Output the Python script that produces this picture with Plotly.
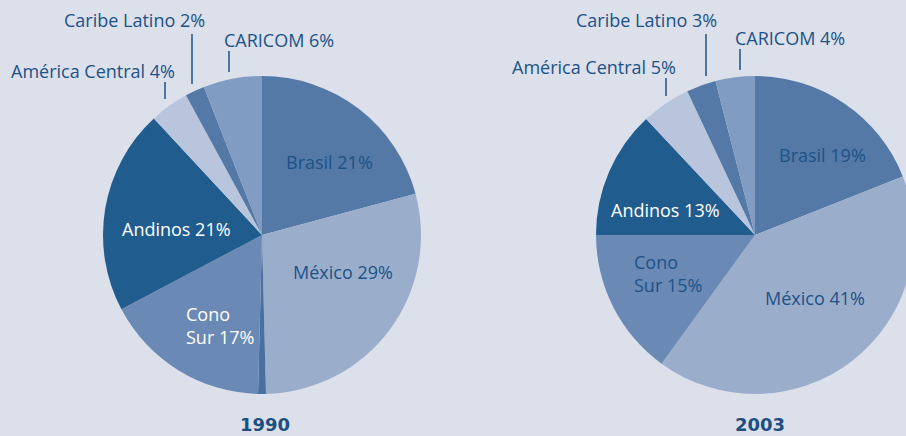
import plotly.graph_objects as go

# Regional shares of intra-Latin American trade, 1990 vs 2003
regions = ["Brasil", "México", "Otros", "Cono Sur", "Andinos",
           "América Central", "Caribe Latino", "CARICOM"]
share_1990 = [21, 29, 0.8, 17, 21, 4, 2, 6]
regions_2003 = ["Brasil", "México", "Cono Sur", "Andinos",
                "América Central", "Caribe Latino", "CARICOM"]
share_2003 = [19, 41, 15, 13, 5, 3, 4]
years = ["1990", "2003"]

W, H = 916, 436
BG = "#dbe0eb"
INK = "#1d5286"
FONT = "Open Sans"

colors_1990 = ["#5479a7", "#9aaecc", "#4a70a0", "#6a89b4", "#205c8d",
               "#b8c5dd", "#5479a7", "#809cc2"]
colors_2003 = ["#5479a7", "#9aaecc", "#6a89b4", "#205c8d",
               "#b8c5dd", "#5479a7", "#809cc2"]


def dom(cx, cy, r):
    return dict(x=[(cx - r) / W, (cx + r) / W],
                y=[(H - cy - r) / H, (H - cy + r) / H])


fig = go.Figure()
fig.add_trace(go.Pie(labels=regions, values=share_1990, sort=False,
                     direction="clockwise", rotation=0, textinfo="none",
                     marker=dict(colors=colors_1990, line=dict(width=0)),
                     domain=dom(262, 235, 159), hoverinfo="label+value"))
fig.add_trace(go.Pie(labels=regions_2003, values=share_2003, sort=False,
                     direction="clockwise", rotation=0, textinfo="none",
                     marker=dict(colors=colors_2003, line=dict(width=0)),
                     domain=dom(755, 235, 159), hoverinfo="label+value"))


def label(name, val, split=False):
    if split:
        a, b = name.split(" ", 1)
        return f"{a}<br>{b} {val}%"
    return f"{name} {val}%"


# label placement: (region, x, y, xanchor, color, split)
place_1990 = [
    ("Caribe Latino", 62, 20, "left", INK, False),
    ("CARICOM", 222, 40, "left", INK, False),
    ("América Central", 9, 71, "left", INK, False),
    ("Brasil", 329, 162, "center", INK, False),
    ("México", 343, 272, "center", INK, False),
    ("Andinos", 176, 229, "center", "white", False),
    ("Cono Sur", 184, 325, "left", "white", True),
]
place_2003 = [
    ("Caribe Latino", 574, 20, "left", INK, False),
    ("CARICOM", 733, 38, "left", INK, False),
    ("América Central", 510, 67, "left", INK, False),
    ("Brasil", 822, 155, "center", INK, False),
    ("México", 815, 298, "center", INK, False),
    ("Andinos", 665, 210, "center", "white", False),
    ("Cono Sur", 632, 273, "left", INK, True),
]

annotations = []
for names, vals, places in [(regions, share_1990, place_1990),
                            (regions_2003, share_2003, place_2003)]:
    lookup = dict(zip(names, vals))
    for name, x, y, xa, col, split in places:
        annotations.append(dict(
            text=label(name, lookup[name], split), x=x / W, y=1 - y / H,
            xref="paper", yref="paper", xanchor=xa, yanchor="middle",
            align="left", showarrow=False,
            font=dict(family=FONT, size=18, color=col)))

for yr, x in zip(years, [265, 760]):
    annotations.append(dict(
        text=f"<b>{yr}</b>", x=x / W, y=1 - 424 / H, xref="paper",
        yref="paper", xanchor="center", yanchor="middle", showarrow=False,
        font=dict(family="DejaVu Sans", size=18, color="#1d4f80")))

# leader lines for the small slices
leaders = [(192, 34, 84), (229, 51, 72), (165, 82, 99),
           (706, 34, 76), (740, 49, 70), (666, 78, 96)]
shapes = [dict(type="line", xref="paper", yref="paper",
               x0=x / W, x1=x / W, y0=1 - y0 / H, y1=1 - y1 / H,
               line=dict(color=INK, width=1.5))
          for x, y0, y1 in leaders]

fig.update_layout(width=W, height=H, margin=dict(l=0, r=0, t=0, b=0),
                  paper_bgcolor=BG, plot_bgcolor=BG, showlegend=False,
                  annotations=annotations, shapes=shapes)

fig.write_html("out.html",
               post_script="document.documentElement.style.overflow='hidden';"
                           "document.body.style.overflow='hidden';"
                           "document.body.style.margin='0';")
